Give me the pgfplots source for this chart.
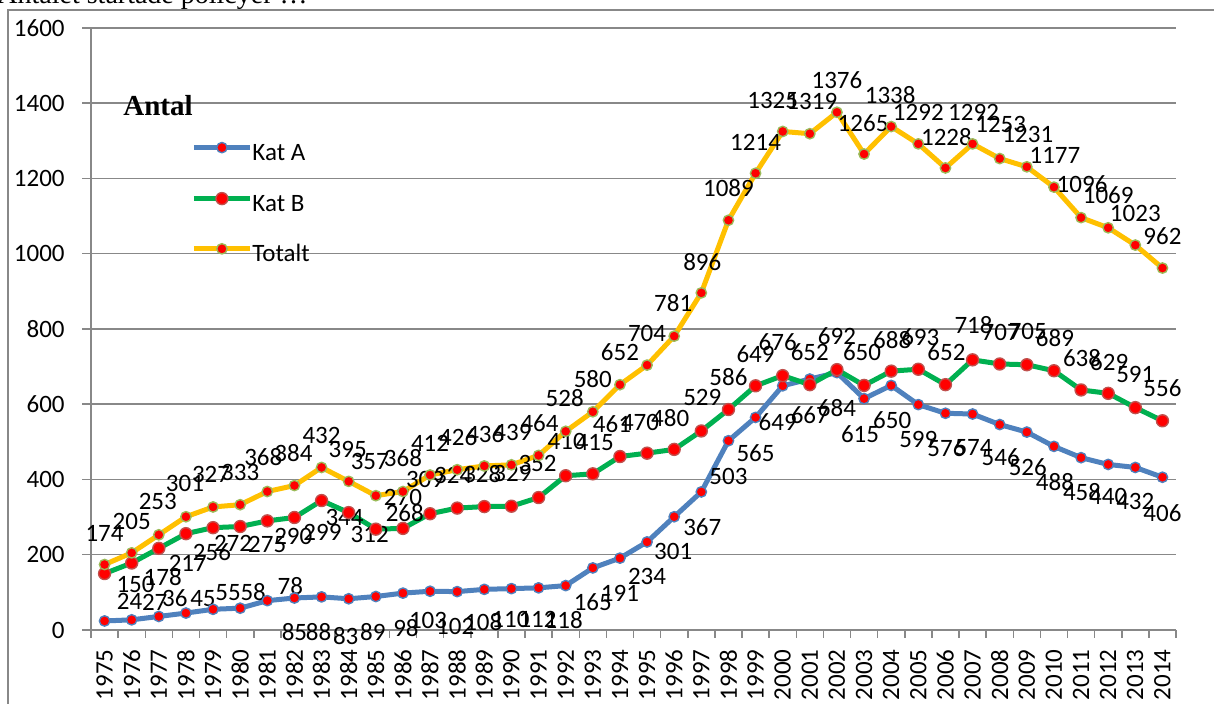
\documentclass[border=0pt]{standalone}
\usepackage{fontspec}
\setmainfont{Carlito}
\newfontfamily\serifb{Liberation Serif}
\usepackage{pgfplots}
\usepackage{pgfplotstable}
\pgfplotsset{compat=1.18}
\definecolor{katA}{HTML}{4F81BD}
\definecolor{katB}{HTML}{00B050}
\definecolor{tot}{HTML}{FFC000}
\definecolor{gridc}{HTML}{888888}
\definecolor{mkA}{HTML}{4F81BD}
\definecolor{mkB}{HTML}{C0504D}
\definecolor{mkT}{HTML}{9BBB59}

\pgfplotstableread{
x y dx dy
1975 24 25 20
1976 27 23 17
1977 36 16 18
1978 45 17 15
1979 55 15 17
1980 58 13 16
1981 78 23 15
1982 85 0 -34
1983 88 -3 -35
1984 83 -3 -37
1985 89 -3 -36
1986 98 3 -35
1987 103 -2 -29
1988 102 -2 -35
1989 108 -1 -33
1990 110 -1 -31
1991 112 -1 -32
1992 118 -2 -34
1993 165 0 -34
1994 191 0 -35
1995 234 0 -35
1996 301 -1 -35
1997 367 1 -35
1998 503 0 -36
1999 565 0 -36
2000 649 -5 -36
2001 667 0 -36
2002 684 0 -35
2003 615 -4 -36
2004 650 1 -35
2005 599 0 -35
2006 576 1 -35
2007 574 1 -34
2008 546 1 -33
2009 526 1 -35
2010 488 1 -36
2011 458 1 -34
2012 440 0 -32
2013 432 0 -34
2014 406 0 -36
}\katAtab

\pgfplotstableread{
x y dx dy
1975 150 31 -11
1976 178 31 -14
1977 217 29 -15
1978 256 26 -18
1979 272 20 -16
1980 275 27 -18
1981 290 26 -16
1982 299 28 -15
1983 344 23 -17
1984 312 21 -22
1985 268 29 16
1986 270 0 31
1987 309 -5 34
1988 324 -4 33
1989 328 -2 33
1990 329 1 33
1991 352 -1 34
1992 410 1 34
1993 415 2 31
1994 461 -8 32
1995 470 -7 31
1996 480 -4 31
1997 529 1 33
1998 586 0 32
1999 649 0 32
2000 676 -5 33
2001 652 0 33
2002 692 0 33
2003 650 -2 33
2004 688 1 31
2005 693 2 32
2006 652 1 33
2007 718 1 35
2008 707 1 32
2009 705 1 33
2010 689 1 33
2011 638 1 32
2012 629 1 31
2013 591 0 33
2014 556 0 33
}\katBtab

\pgfplotstableread{
x y dx dy
1975 174 0 31
1976 205 0 31
1977 253 -1 33
1978 301 -1 33
1979 327 -2 32
1980 333 0 32
1981 368 -4 34
1982 384 -1 32
1983 432 0 32
1984 395 -1 32
1985 357 -6 34
1986 368 0 33
1987 412 0 32
1988 426 1 33
1989 436 1 32
1990 439 1 32
1991 464 1 32
1992 528 -1 33
1993 580 0 33
1994 652 0 33
1995 704 0 32
1996 781 -1 33
1997 896 1 31
1998 1089 0 32
1999 1214 0 31
2000 1325 -10 31
2001 1319 2 32
2002 1376 0 32
2003 1265 -1 31
2004 1338 -1 32
2005 1292 0 31
2006 1228 1 31
2007 1292 1 31
2008 1253 1 34
2009 1231 1 32
2010 1177 1 32
2011 1096 1 33
2012 1069 0 33
2013 1023 0 32
2014 962 0 32
}\totTab

\pgfplotsset{
  lbl/.style={
    nodes near coords,
    point meta=explicit symbolic,
    visualization depends on={0.5*\thisrow{dx} \as \dx},
    visualization depends on={0.5*\thisrow{dy} \as \dy},
    every node near coord/.append style={anchor=center, inner sep=0pt,
      xshift=\dx pt, yshift=\dy pt, text=black,
      font=\fontsize{12.5}{14}\selectfont},
  },
}

\begin{document}
\begin{tikzpicture}
\begin{axis}[
  at={(45.5pt,37pt)}, anchor=south west,
  scale only axis, width=542.5pt, height=301pt,
  xmin=1974.5, xmax=2014.5, ymin=0, ymax=1600,
  xtick={1975,...,2014},
  minor xtick={1974.5,1975.5,...,2014.5},
  ytick={0,200,...,1600},
  axis x line*=bottom, axis y line*=left,
  x axis line style={-}, y axis line style={-},
  axis line style={draw=gridc, line width=0.75pt},
  xtick pos=bottom, ytick pos=left,
  ymajorgrids, grid style={draw=gridc, line width=0.75pt},
  tick align=outside,
  major tick length=4.5pt, minor tick length=4pt,
  tick style={draw=gridc, line width=0.75pt},
  every major x tick/.append style={draw=none},
  /pgf/number format/assume math mode=true,
  /pgf/number format/1000 sep={},
  xticklabel style={yshift=-5pt, rotate=90, anchor=east, inner sep=0pt, font=\fontsize{12.5}{14}\selectfont},
  yticklabel style={xshift=-8.5pt, anchor=east, inner sep=0pt, font=\fontsize{12.5}{14}\selectfont},
  legend style={draw=none, fill=none, inner sep=0pt, at={(axis description cs:0.0922,0.8106)}, anchor=north west,
    row sep=14pt, font=\fontsize{12.5}{14}\selectfont,
    nodes={inner sep=0pt, text height=9pt, text depth=2pt},
    /tikz/every even column/.append style={column sep=2pt}},
  legend cell align=left,
  legend image code/.code={\draw[mark repeat=2,mark phase=2,#1] plot coordinates {(0pt,3pt) (14pt,3pt) (28pt,3pt)};},
]
\addplot[katA, line width=2.5pt, line join=round, mark=*, mark size=2.6pt,
  mark options={solid, fill=red, draw=mkA, line width=0.7pt}, lbl]
  table[x=x, y=y, meta=y] {\katAtab};
\addlegendentry{Kat A}
\addplot[katB, line width=2.5pt, line join=round, mark=*, mark size=3.0pt,
  mark options={solid, fill=red, draw=mkB, line width=0.7pt}, lbl]
  table[x=x, y=y, meta=y] {\katBtab};
\addlegendentry{Kat B}
\addplot[tot, line width=2.5pt, line join=round, mark=*, mark size=2.6pt,
  mark options={solid, fill=red, draw=mkT, line width=0.7pt}, lbl]
  table[x=x, y=y, meta=y] {\totTab};
\addlegendentry{Totalt}
\end{axis}
\node[anchor=west, inner sep=0pt, font=\serifb\bfseries\fontsize{14.5}{16}\selectfont] at (61.5pt,299pt) {Antal};
\draw[gridc, line width=0.75pt] (4pt,-2pt) -- (4pt,347pt) -- (610pt,347pt);
\node[anchor=base west, inner sep=0pt, font=\serifb\fontsize{14}{16}\selectfont] at (-1.5pt,350pt) {Antalet startade policyer …};
\pgfresetboundingbox
\useasboundingbox (0,0) rectangle (607pt,352pt);
\end{tikzpicture}
\end{document}
